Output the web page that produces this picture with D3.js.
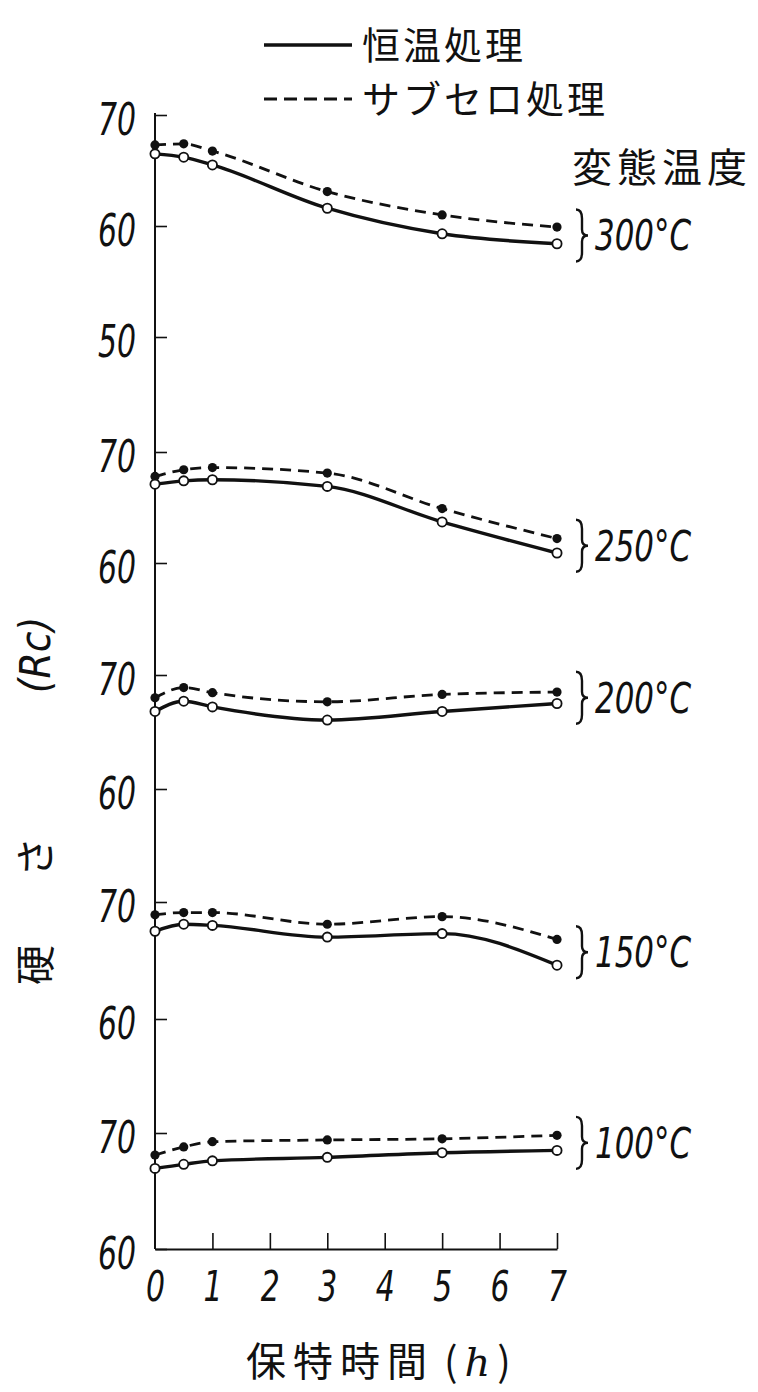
<!DOCTYPE html>
<html><head><meta charset="utf-8">
<script src="https://cdn.jsdelivr.net/npm/d3@7"></script>
<style>
body{margin:0;background:#fff;}
svg{display:block;}
.num{font-family:"Liberation Sans Narrow","DejaVu Sans Condensed","Liberation Sans",sans-serif;font-style:italic;fill:#111;}
.jp{font-family:"Noto Sans CJK JP","Noto Sans CJK SC",sans-serif;fill:#111;}
</style></head>
<body>
<svg id="c" width="758" height="1392"></svg>
<script>
// ---- data ----
const hours = [0, 0.5, 1, 3, 5, 7];
const xTickLabels = [0, 1, 2, 3, 4, 5, 6, 7];
const tempLabels = ["300°C", "250°C", "200°C", "150°C", "100°C"];
const isoHold300 = [66.5, 66.2, 65.5, 61.6, 59.3, 58.4];
const subZero300 = [67.3, 67.4, 66.75, 63.1, 61.0, 59.9];
const isoHold250 = [67.1, 67.4, 67.5, 66.9, 63.7, 60.9];
const subZero250 = [67.8, 68.4, 68.6, 68.1, 64.9, 62.2];
const isoHold200 = [66.8, 67.7, 67.2, 66.05, 66.8, 67.5];
const subZero200 = [68.0, 68.9, 68.45, 67.65, 68.3, 68.5];
const isoHold150 = [67.5, 68.1, 68.0, 67.0, 67.3, 64.6];
const subZero150 = [68.9, 69.1, 69.1, 68.1, 68.75, 66.8];
const isoHold100 = [66.95, 67.3, 67.6, 67.9, 68.3, 68.5];
const subZero100 = [68.1, 68.8, 69.25, 69.4, 69.5, 69.8];
const panelTicks = [[70, 60, 50], [70, 60], [70, 60], [70, 60], [70, 60]];
const legendLabels = ["恒温処理", "サブセロ処理"];
const xTitle = "保特時間";
const yTitleParts = ["硬", "さ", "(Rc)"];
const tempTitle = "変態温度";

const isoSeries = [isoHold300, isoHold250, isoHold200, isoHold150, isoHold100];
const subSeries = [subZero300, subZero250, subZero200, subZero150, subZero100];

// ---- layout ----
const svg = d3.select("#c");
const X0 = 155, X7 = 557, AXIS_BOTTOM = 1249, AXIS_TOP = 113;
const panelY = [[115, 226], [452, 563], [675, 789], [902, 1019], [1133, 1249]]; // y of 70, y of 60

const x = d3.scaleLinear().domain([0, 7]).range([X0, X7]);
const yScales = panelY.map(p => d3.scaleLinear().domain([60, 70]).range([p[1], p[0]]));

// y axis line
svg.append("line").attr("x1", X0).attr("x2", X0).attr("y1", AXIS_TOP).attr("y2", AXIS_BOTTOM)
  .attr("stroke", "#111").attr("stroke-width", 2);

// y ticks per panel
yScales.forEach((ys, i) => {
  const g = svg.append("g").attr("transform", `translate(${X0},0)`)
    .call(d3.axisLeft(ys).tickValues(panelTicks[i]).tickSizeInner(-12).tickSizeOuter(0).tickPadding(19).tickFormat(d3.format("d")));
  g.select(".domain").remove();
  g.selectAll(".tick line").attr("stroke", "#111").attr("stroke-width", 1.6);
  g.selectAll(".tick text").attr("class", "num").attr("font-size", 44).attr("dy", "0.45em").attr("fill", "#111")
    .attr("textLength", 38).attr("lengthAdjust", "spacingAndGlyphs");
});

// x axis
const gx = svg.append("g").attr("transform", `translate(0,${AXIS_BOTTOM})`)
  .call(d3.axisBottom(x).tickValues(xTickLabels).tickSizeInner(-16).tickSizeOuter(0).tickPadding(20).tickFormat(d3.format("d")));
gx.select(".domain").attr("stroke", "#111").attr("stroke-width", 2);
gx.selectAll(".tick line").attr("stroke", "#111").attr("stroke-width", 1.6);
gx.selectAll(".tick").filter(d => d === 0).select("line").remove();
gx.selectAll(".tick text").attr("class", "num").attr("font-size", 42).attr("dy", "0.75em").attr("fill", "#111")
  .attr("textLength", 19).attr("lengthAdjust", "spacingAndGlyphs");

// lines and points
const line = ys => d3.line().x((d, j) => x(hours[j])).y(d => ys(d)).curve(d3.curveMonotoneX);

yScales.forEach((ys, i) => {
  svg.append("path").datum(subSeries[i]).attr("d", line(ys))
    .attr("fill", "none").attr("stroke", "#111").attr("stroke-width", 2.8).attr("stroke-dasharray", "11,7");
  svg.append("path").datum(isoSeries[i]).attr("d", line(ys))
    .attr("fill", "none").attr("stroke", "#111").attr("stroke-width", 3.4);
  svg.append("g").selectAll("circle").data(subSeries[i]).join("circle")
    .attr("cx", (d, j) => x(hours[j])).attr("cy", d => ys(d)).attr("r", 4.6).attr("fill", "#111");
  svg.append("g").selectAll("circle").data(isoSeries[i]).join("circle")
    .attr("cx", (d, j) => x(hours[j])).attr("cy", d => ys(d)).attr("r", 4.6)
    .attr("fill", "#fff").attr("stroke", "#111").attr("stroke-width", 1.8);

  // brace + temperature label
  const last = hours.length - 1;
  const cy = (ys(isoSeries[i][last]) + ys(subSeries[i][last])) / 2;
  const bx = 576, h = 26;
  svg.append("path")
    .attr("d", `M${bx},${cy - h} Q${bx + 6},${cy - h} ${bx + 6},${cy - h + 9} L${bx + 6},${cy - 6} Q${bx + 6},${cy} ${bx + 12},${cy} Q${bx + 6},${cy} ${bx + 6},${cy + 6} L${bx + 6},${cy + h - 9} Q${bx + 6},${cy + h} ${bx},${cy + h}`)
    .attr("fill", "none").attr("stroke", "#111").attr("stroke-width", 2.4);
  svg.append("text").attr("class", "num").attr("x", 595).attr("y", cy + 15)
    .attr("font-size", 42).attr("textLength", 96).attr("lengthAdjust", "spacingAndGlyphs").text(tempLabels[i]);
});

// legend
const legY = [45, 99];
svg.append("line").attr("x1", 264).attr("x2", 352).attr("y1", legY[0]).attr("y2", legY[0])
  .attr("stroke", "#111").attr("stroke-width", 3.4);
svg.append("line").attr("x1", 264).attr("x2", 352).attr("y1", legY[1]).attr("y2", legY[1])
  .attr("stroke", "#111").attr("stroke-width", 3.2).attr("stroke-dasharray", "13,7");
legendLabels.forEach((t, i) => {
  svg.append("text").attr("class", "jp").attr("x", 362).attr("y", legY[i] + 14)
    .attr("font-size", 38).attr("letter-spacing", 3).text(t);
});

// temperature title
svg.append("text").attr("class", "jp").attr("x", 572).attr("y", 182)
  .attr("font-size", 40).attr("letter-spacing", 5).text(tempTitle);

// x title
const xt = svg.append("text").attr("class", "jp").attr("x", 246).attr("y", 1376).attr("font-size", 40);
xt.append("tspan").attr("letter-spacing", 7).text(xTitle);
xt.append("tspan").attr("dx", 10).text("(");
xt.append("tspan").attr("dx", 7).attr("font-style", "italic").attr("font-family", "DejaVu Serif, serif").text("h");
xt.append("tspan").attr("dx", 7).text(")");

// y title (rotated)
const yPos = [965, 857, 655];
yTitleParts.forEach((t, i) => {
  svg.append("text").attr("class", i === 2 ? "num" : "jp")
    .attr("transform", `translate(50,${yPos[i]}) rotate(-90)`)
    .attr("text-anchor", "middle").attr("font-size", i === 2 ? 42 : 40).text(t);
});
</script>
</body></html>
